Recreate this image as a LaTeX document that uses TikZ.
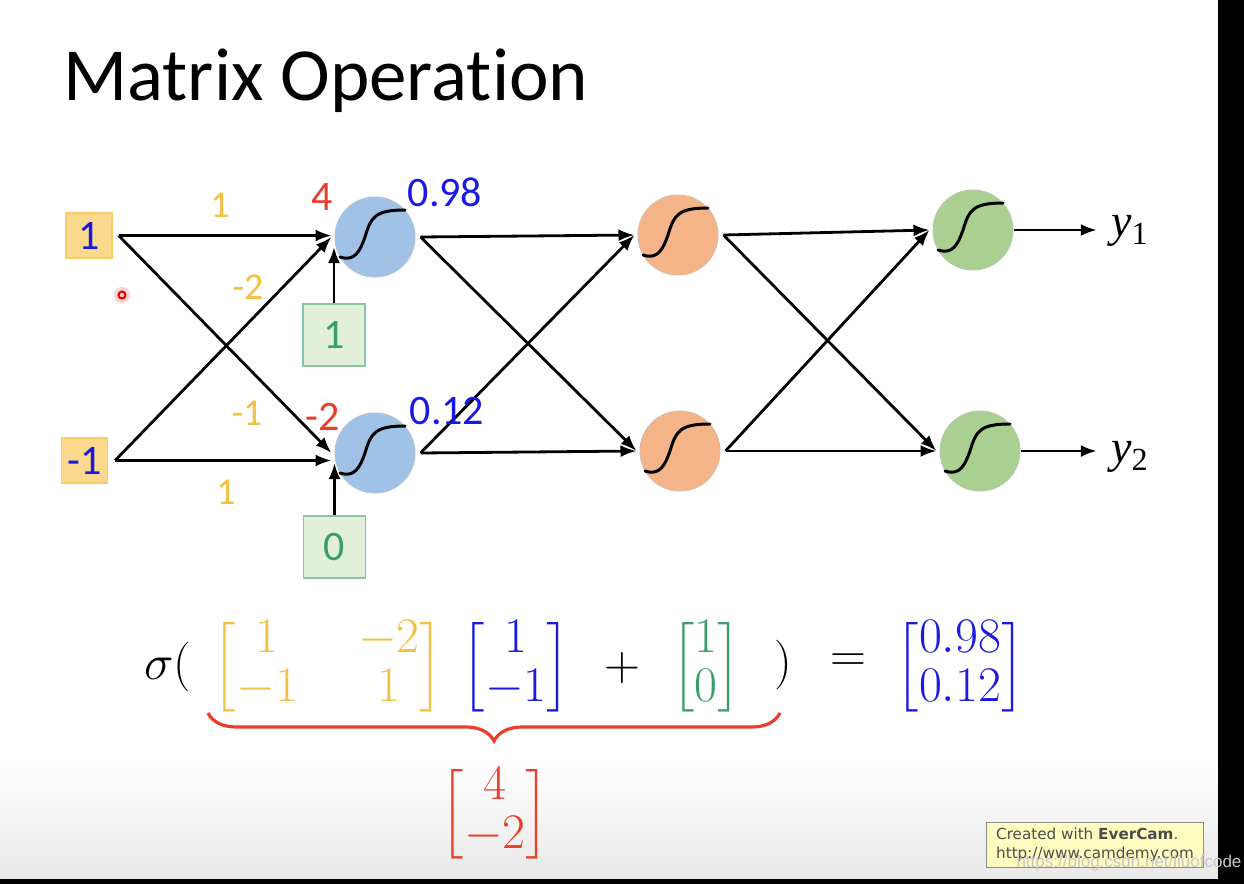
\documentclass[tikz,border=0pt]{standalone}
\usepackage{amsmath}
\usepackage{fontspec}
\setmainfont[Ligatures=NoCommon]{Carlito}
\newfontfamily\wmfont{DejaVu Sans}
\newfontfamily\csdnfont{Liberation Sans}
\newfontfamily\tnrfont{Liberation Serif}
\usetikzlibrary{positioning,calc,arrows.meta,decorations.pathreplacing}

\definecolor{wgold}{RGB}{244,192,66}
\definecolor{vblue}{RGB}{25,25,225}
\definecolor{zred}{RGB}{232,62,42}
\definecolor{bgreen}{RGB}{58,158,104}
\definecolor{boxorange}{RGB}{250,216,140}
\definecolor{boxgreen}{RGB}{226,240,218}
\definecolor{nblue}{RGB}{160,194,230}
\definecolor{nsalmon}{RGB}{245,180,135}
\definecolor{ngreen}{RGB}{170,208,145}

\tikzset{
  inbox/.style={draw=wgold!80, fill=boxorange, line width=0.6pt, minimum width=23pt, minimum height=22.5pt, inner sep=0pt, text=vblue, font=\fontsize{21}{21}\selectfont},
  biasbox/.style={draw=bgreen!60, fill=boxgreen, line width=0.6pt, minimum size=31pt, inner sep=0pt, text=bgreen, font=\fontsize{21}{21}\selectfont},
  neuron/.style={circle, draw=#1!80!black!60, fill=#1, line width=0.5pt, minimum size=40pt, inner sep=0pt},
  conn/.style={-{Latex[length=8pt,width=6pt]}, line width=1.4pt},
  sigline/.style={line width=1.5pt, line cap=round},
  wlab/.style={text=wgold, font=\fontsize{19}{19}\selectfont},
  zlab/.style={text=zred, font=\fontsize{21}{21}\selectfont},
  alab/.style={text=vblue, font=\fontsize{21}{21}\selectfont},
  ylab/.style={font=\tnrfont\fontsize{23}{23}\selectfont, inner sep=0pt},
  eqn/.style={inner sep=0pt, font=\fontsize{27}{27}\selectfont}
}

\newcommand{\sigmoid}[1]{%
  \draw[sigline, shift={(#1.center)}] (-35,20) .. controls (-20,25) and (-15,14) .. (-10,0)
     .. controls (-4,-20) and (0,-27) .. (30,-27);}

\begin{document}
\begin{tikzpicture}[x=0.5pt, y=-0.5pt]
    \useasboundingbox (0,0) rectangle (1244,884);
    % slide background
    \fill[white] (0,0) rectangle (1244,884);
    \shade[top color=white, bottom color=black!9] (0,760) rectangle (1218,879);
    \fill[black] (1218,0) rectangle (1244,884);
    \fill[black] (0,879) rectangle (1244,884);

    \node[anchor=base west, inner sep=0pt, font=\fontsize{37.5}{38}\selectfont] (title) at (63,100) {Matrix Operation};

    % pointer dot
    \fill[red!25, opacity=0.7] (122,295) circle (8);
    \draw[red!85!black, line width=1pt] (122,295) circle (3.5);

    % inputs and biases
    \node[inbox] (x1) at (89,235.5) {1};
    \node[inbox] (x2) at (84.5,460.5) {-1};
    \node[biasbox] (b1) at (334,335) {1};
    \node[biasbox] (b2) at (334.5,547) {0};

    % neurons
    \node[neuron=nblue] (h1) at (375,237) {};
    \node[neuron=nblue] (h2) at (375,453) {};
    \node[neuron=nsalmon] (m1) at (678,235) {};
    \node[neuron=nsalmon] (m2) at (680,451) {};
    \node[neuron=ngreen] (o1) at (973,230) {};
    \node[neuron=ngreen] (o2) at (980,451) {};
    \foreach \n in {h1,h2,m1,m2,o1,o2}{
        \sigmoid{\n}
        \coordinate (\n-in) at ($(\n.west)+(-3,0)$);
        \coordinate (\n-out) at ($(\n.east)+(5,0)$);
    }
    \coordinate (x1-out) at ($(x1.east)+(6,0)$);
    \coordinate (x2-out) at ($(x2.east)+(7,0)$);
    \coordinate (h1-b) at ($(h1-in)+(0,10)$);
    \coordinate (h2-b) at ($(h2-in)+(0,10)$);

    % outputs
    \node[ylab] (y1) at (1130,231) {\textit{y}\textsubscript{1}};
    \node[ylab] (y2) at (1130,457) {\textit{y}\textsubscript{2}};
    \coordinate (y1-tip) at ($(y1.west)+(-14,0)$);
    \coordinate (y2-tip) at ($(y2.west)+(-14,0)$);

    % connections
    \draw[conn] (x1-out) -- (x1-out -| h1-in);
    \draw[conn] (x1-out) -- (h2-in);
    \draw[conn] (x2-out) -- (x2-out -| h2-in);
    \draw[conn] (x2-out) -- (h1-in);
    \draw[conn] (b1.north) -- (b1.north |- h1-b);
    \draw[conn] (b2.north) -- (b2.north |- h2-b);
    \foreach \a/\b in {h1/m1,h1/m2,h2/m1,h2/m2,m1/o1,m1/o2,m2/o1,m2/o2}
        \draw[conn] (\a-out) -- (\b-in);
    \draw[conn] (o1.east) -- (o1.east -| y1-tip);
    \draw[conn] (o2.east) -- (o2.east -| y2-tip);

    % weights and values
    \node[wlab] (w11) at (220,205) {1};
    \node[wlab] (w12) at (248,287) {-2};
    \node[wlab] (w21) at (247,413) {-1};
    \node[wlab] (w22) at (226,492) {1};
    \node[zlab] (z1) at (322,197) {4};
    \node[zlab] (z2) at (323,417) {-2};
    \node[alab] (a1) at (445,192) {0.98};
    \node[alab] (a2) at (447,411) {0.12};

    % matrix equation
    \node[eqn] (sig) at (168,667) {$\sigma($};
    \node[eqn, text=wgold] (W) at (328,667) {$\setlength{\arraycolsep}{15pt}\renewcommand{\arraystretch}{0.9}\begin{bmatrix}1&-2\\-1&1\end{bmatrix}$};
    \node[eqn, text=vblue] (X) at (516,667) {$\renewcommand{\arraystretch}{0.9}\begin{bmatrix}1\\-1\end{bmatrix}$};
    \node[eqn] (plus) at (622,668) {$+$};
    \node[eqn, text=bgreen] (B) at (706,667) {$\renewcommand{\arraystretch}{0.9}\begin{bmatrix}1\\0\end{bmatrix}$};
    \node[eqn] (rpar) at (783,665) {$)$};
    \node[eqn] (eq) at (848,663) {$=$};
    \node[eqn, text=vblue] (A) at (960,667) {$\renewcommand{\arraystretch}{0.9}\begin{bmatrix}0.98\\0.12\end{bmatrix}$};
    \coordinate (brL) at (208,713);
    \coordinate (brR) at (780,713);
    \draw[zred, line width=1.6pt, decorate, decoration={brace, mirror, amplitude=14pt}] (brL) -- (brR);
    \node[eqn, text=zred] (Z) at (495,814) {$\renewcommand{\arraystretch}{0.9}\begin{bmatrix}4\\-2\end{bmatrix}$};

    % recorder watermark
    \node[draw=black!45, fill=yellow!25!white, line width=0.6pt, align=left, inner xsep=5pt, inner ysep=3pt,
          text=black!70, font=\wmfont\fontsize{7.6}{9.5}\selectfont] (ever) at (1095,845)
          {Created with \textbf{EverCam}.\\http://www.camdemy.com};
    \node[text=black!22, inner sep=0pt, font=\csdnfont\fontsize{8.5}{9}\selectfont] (csdn) at (1129,863) {https://blog.csdn.net/liuofcode};
\end{tikzpicture}
\end{document}
